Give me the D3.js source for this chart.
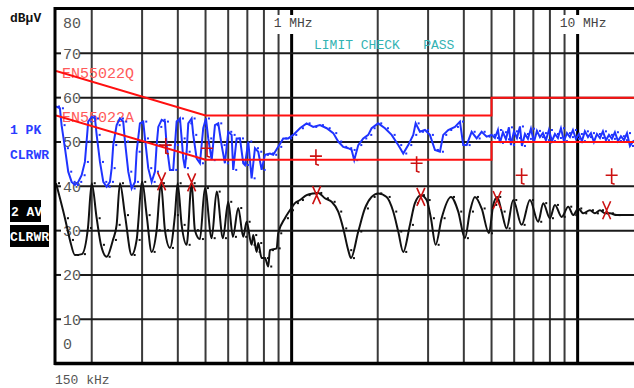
<!DOCTYPE html>
<html>
<head>
<meta charset="utf-8">
<script src="https://cdnjs.cloudflare.com/ajax/libs/d3/7.8.5/d3.min.js"></script>
<style>
  body { margin: 0; background: #fff; }
  svg { display: block; }
  text { font-family: "Liberation Mono", "DejaVu Sans Mono", monospace; }
</style>
</head>
<body>
<div id="chart"></div>
<script>
// grid / tick values
var gridFreqs = [0.2, 0.3, 0.4, 0.5, 0.6, 0.7, 0.8, 0.9, 1, 2, 3, 4, 5, 6, 7, 8, 9, 10, 20];
var majorFreqs = [1, 10];
var freqLabels = [{ f: 1, text: "1 MHz" }, { f: 10, text: "10 MHz" }];
var dbTicks = [0, 10, 20, 30, 40, 50, 60, 70, 80];

// EN55022 class B limits (MHz, dBuV)
var limitFreqs = [0.15, 0.5, 5, 5, 30];
var limitQP = [66, 56, 56, 60, 60];
var limitAV = [56, 46, 46, 50, 50];

// trace 1 : peak (MHz, dBuV)
var pkTrace = [
  [0.150,58.0],[0.1548,57.6],[0.1569,53.8],[0.1612,48.6],[0.1655,43.3],[0.1701,41.0],[0.1747,40.3],[0.1794,41.0],
  [0.1844,42.5],[0.1893,45.5],[0.1919,50.1],[0.1944,54.6],[0.2000,55.7],[0.2053,55.3],[0.2081,51.6],[0.2137,45.5],
  [0.2195,41.0],[0.2255,39.9],[0.2316,41.0],[0.2348,44.1],[0.2378,49.3],[0.2444,53.8],[0.2510,55.3],[0.2577,54.6],
  [0.2614,50.1],[0.2684,43.3],[0.2758,39.5],[0.2833,41.0],[0.2871,47.8],[0.2948,54.2],[0.3028,54.6],[0.3070,50.8],
  [0.3152,44.1],[0.3240,41.0],[0.3327,43.3],[0.3373,49.3],[0.3418,53.4],[0.3512,55.0],[0.3606,54.6],[0.3655,49.3],
  [0.3754,43.7],[0.3855,43.7],[0.3908,49.3],[0.3962,54.6],[0.4069,55.3],[0.4125,50.8],[0.4178,46.3],[0.4235,44.1],
  [0.4294,47.8],[0.4351,54.2],[0.4470,55.3],[0.4529,51.6],[0.4654,46.3],[0.4779,45.2],[0.4908,53.1],[0.5016,55.3],
  [0.5110,50.8],[0.5253,45.9],[0.5394,53.8],[0.5539,54.2],[0.5691,49.3],[0.5843,45.2],[0.6003,52.3],[0.6168,51.6],
  [0.6248,43.7],[0.6422,50.8],[0.6596,50.8],[0.6773,45.2],[0.6867,44.8],[0.7052,50.1],[0.7246,41.8],[0.7443,48.6],
  [0.7643,47.8],[0.7855,43.7],[0.8065,47.1],[0.8397,47.4],[0.8623,47.1],[0.8978,48.9],[0.9346,50.8],[0.9730,50.8],
  [1.013,51.6],[1.069,53.1],[1.128,54.2],[1.190,53.4],[1.256,53.8],[1.326,53.1],[1.398,52.0],[1.455,50.1],
  [1.515,48.9],[1.577,48.6],[1.621,48.2],[1.655,45.9],[1.710,49.3],[1.780,50.8],[1.853,51.6],[1.904,53.1],
  [2.008,54.2],[2.120,53.1],[2.237,51.6],[2.359,49.3],[2.456,47.4],[2.557,49.3],[2.662,51.6],[2.714,54.2],
  [2.809,52.3],[2.925,52.7],[3.044,51.6],[3.170,48.2],[3.300,47.8],[3.389,51.6],[3.528,52.7],[3.724,53.4],
  [3.877,54.6],[3.981,49.3],[4.092,49.3],[4.260,52.3],[4.435,50.8],[4.617,52.3],[4.806,51.2],[5.003,51.6],
  [5.138,50.9],[5.264,52.7],[5.349,49.8],[5.480,52.2],[5.614,50.6],[5.751,53.3],[5.845,49.3],[5.988,52.4],
  [6.134,50.9],[6.284,53.5],[6.386,49.1],[6.542,51.8],[6.702,50.7],[6.866,53.0],[7.034,50.0],[7.206,52.5],
  [7.382,51.1],[7.562,52.0],[7.747,50.4],[7.937,52.7],[8.131,50.2],[8.329,51.8],[8.533,50.9],[8.742,53.1],
  [8.955,50.2],[9.174,52.0],[9.399,51.1],[9.629,52.7],[9.864,50.7],[10.10,51.8],[10.35,50.2],[10.60,52.4],
  [10.87,51.1],[11.13,52.0],[11.40,50.0],[11.68,51.8],[11.97,50.9],[12.26,52.4],[12.56,50.4],[12.87,51.6],
  [13.18,50.7],[13.50,52.2],[13.84,50.2],[14.17,51.3],[14.52,50.4],[14.88,52.0],[15.24,49.1],[15.73,50.4]
];

// trace 2 : average (MHz, dBuV)
var avTrace = [
  [0.150,40.7],[0.1612,32.8],[0.1678,27.9],[0.1747,24.5],[0.1848,24.7],[0.1940,30.6],[0.2000,40.7],[0.2081,32.8],
  [0.2154,26.8],[0.2255,24.1],[0.2372,27.9],[0.2444,31.3],[0.2510,40.7],[0.2614,33.5],[0.2758,24.5],[0.2871,27.9],
  [0.3003,41.0],[0.3112,33.5],[0.3240,25.2],[0.3373,30.1],[0.3491,40.7],[0.3606,30.1],[0.3754,26.1],[0.3908,33.5],
  [0.3994,40.7],[0.4125,31.3],[0.4294,26.8],[0.4470,40.7],[0.4590,30.1],[0.4779,28.1],[0.4975,39.6],[0.5253,28.3],
  [0.5469,38.8],[0.5752,28.3],[0.6003,36.5],[0.6233,28.6],[0.6506,35.1],[0.6773,28.6],[0.6960,32.0],[0.7246,26.8],
  [0.7340,29.0],[0.7545,25.2],[0.7643,27.2],[0.7855,23.8],[0.8065,23.8],[0.8283,21.9],[0.8397,25.6],[0.8864,26.0],
  [0.8978,29.4],[0.9475,32.8],[0.9864,34.6],[1.027,36.2],[1.069,36.9],[1.128,38.0],[1.190,38.4],[1.239,38.5],
  [1.307,37.3],[1.380,36.5],[1.455,34.3],[1.515,30.5],[1.577,25.6],[1.612,23.8],[1.710,29.8],[1.804,35.0],
  [1.904,37.6],[2.008,38.4],[2.149,37.6],[2.266,34.3],[2.359,29.8],[2.456,25.2],[2.592,31.3],[2.698,36.2],
  [2.832,38.0],[2.965,36.9],[3.069,32.8],[3.188,26.8],[3.345,32.8],[3.606,37.6],[3.824,34.3],[4.036,28.3],
  [4.202,34.3],[4.374,37.6],[4.617,35.0],[4.897,29.4],[5.069,35.8],[5.235,37.6],[5.424,34.3],[5.646,30.5],
  [5.954,36.9],[6.371,31.3],[6.811,36.9],[7.281,32.0],[7.580,36.2],[8.001,32.8],[8.329,35.8],[8.793,33.1],
  [9.271,35.4],[9.652,33.5],[10.05,35.0],[10.46,33.9],[11.04,34.6],[11.49,33.9],[11.97,34.6],[12.46,33.9],
  [12.97,33.9],[13.69,33.5],[15.73,33.5]
];

// final measurement markers
var qpMarkFreqs = [0.363, 0.506, 1.216, 2.735, 6.37, 13.15];
var qpMarkLevels = [49.3, 48.6, 46.8, 45.2, 42.5, 42.5];
var avMarkFreqs = [0.351, 0.447, 1.223, 2.83, 5.23, 12.63];
var avMarkLevels = [41.1, 40.9, 38.0, 37.6, 36.9, 34.6];

var width = 634, height = 388;
var plotLeft = 56, plotTop = 9, plotBottom = 363.6;

var svg = d3.select("#chart").append("svg")
  .attr("width", width)
  .attr("height", height);

var x = d3.scaleLog().domain([0.15, 30]).range([plotLeft, plotLeft + Math.log10(200) * 286]);
var y = d3.scaleLinear().domain([0, 80]).range([plotBottom, plotTop]);

svg.append("defs").append("clipPath").attr("id", "plotclip")
  .append("rect").attr("x", plotLeft).attr("y", plotTop)
  .attr("width", width - plotLeft).attr("height", plotBottom - plotTop);

// vertical grid (gap under the MHz labels)
var gapFreqs = [0.9, 1, 9, 10];
var vgrid = svg.append("g");
gridFreqs.forEach(function (f) {
  var major = majorFreqs.indexOf(f) >= 0;
  var segs = gapFreqs.indexOf(f) >= 0 ? [[plotTop, 15], [34, plotBottom]] : [[plotTop, plotBottom]];
  segs.forEach(function (s) {
    vgrid.append("line")
      .attr("x1", x(f)).attr("x2", x(f))
      .attr("y1", s[0]).attr("y2", s[1])
      .attr("stroke", major ? "#000" : "#3a3a3a")
      .attr("stroke-width", major ? 3 : 2);
  });
});

// horizontal grid, broken by the labels
var hgrid = svg.append("g");
dbTicks.forEach(function (v) {
  if (v == 0 || v == 80) return;
  hgrid.append("line").attr("x1", plotLeft).attr("x2", 61).attr("y1", y(v)).attr("y2", y(v))
    .attr("stroke", "#1a1a1a").attr("stroke-width", 2);
  hgrid.append("line").attr("x1", 80).attr("x2", width).attr("y1", y(v)).attr("y2", y(v))
    .attr("stroke", "#1a1a1a").attr("stroke-width", 2);
});

svg.append("g").selectAll("text")
  .data(dbTicks)
  .enter()
  .append("text")
  .attr("x", 63)
  .attr("y", function (d) {
    if (d == 80) return y(d) + 14;
    if (d == 0) return y(d) - 20;
    return y(d);
  })
  .attr("dy", "0.36em")
  .attr("fill", "#555")
  .style("font-size", "15px")
  .text(function (d) { return d; });

svg.append("g").selectAll("text")
  .data(freqLabels)
  .enter()
  .append("text")
  .attr("x", function (d) { return x(d.f) - 18; })
  .attr("y", 27)
  .attr("fill", "#444")
  .style("font-size", "13px")
  .text(function (d) { return d.text; });

svg.append("text").attr("x", 55).attr("y", 384).attr("fill", "#555")
  .style("font-size", "13px").text("150 kHz");

svg.append("text").attr("x", 314).attr("y", 49).attr("fill", "#33b3b3")
  .style("font-size", "13px").attr("xml:space", "preserve").text("LIMIT CHECK   PASS");

// limit names
svg.append("text").attr("x", 62).attr("y", 78).attr("fill", "#ff5a5a")
  .style("font-size", "15px").text("EN55022Q");
svg.append("text").attr("x", 62).attr("y", 122).attr("fill", "#ff5a5a")
  .style("font-size", "15px").text("EN55022A");

// left side trace info
svg.append("text").attr("x", 10).attr("y", 22).attr("fill", "#111")
  .style("font-size", "13px").style("font-weight", "bold").text("dBµV");
svg.append("text").attr("x", 10).attr("y", 134).attr("fill", "#2a3cff")
  .style("font-size", "13px").style("font-weight", "bold").text("1 PK");
svg.append("text").attr("x", 10).attr("y", 159).attr("fill", "#2a3cff")
  .style("font-size", "13px").style("font-weight", "bold").text("CLRWR");
svg.append("rect").attr("x", 10).attr("y", 200).attr("width", 31).attr("height", 22).attr("fill", "#000");
svg.append("text").attr("x", 11).attr("y", 216).attr("fill", "#fff")
  .style("font-size", "13px").style("font-weight", "bold").text("2 AV");
svg.append("rect").attr("x", 10).attr("y", 225).attr("width", 39).attr("height", 22).attr("fill", "#000");
svg.append("text").attr("x", 10).attr("y", 241).attr("fill", "#fff")
  .style("font-size", "13px").style("font-weight", "bold").text("CLRWR");

var plot = svg.append("g").attr("clip-path", "url(#plotclip)");

var traceLine = d3.line()
  .x(function (d) { return x(d[0]); })
  .y(function (d) { return y(d[1]); });

// average trace
plot.append("path")
  .datum(avTrace)
  .attr("fill", "none")
  .attr("stroke", "#111")
  .attr("stroke-width", 2)
  .attr("d", traceLine.curve(d3.curveMonotoneX));
plot.append("g").selectAll("rect")
  .data(avTrace)
  .enter()
  .append("rect")
  .attr("x", function (d) { return x(d[0]) + 2; })
  .attr("y", function (d) { return y(d[1]) - 1; })
  .attr("width", 2).attr("height", 2)
  .attr("fill", "#111");

// peak trace
plot.append("path")
  .datum(pkTrace)
  .attr("fill", "none")
  .attr("stroke", "#1f33ff")
  .attr("stroke-width", 2)
  .attr("d", traceLine.curve(d3.curveLinear));
plot.append("g").selectAll("rect")
  .data(pkTrace)
  .enter()
  .append("rect")
  .attr("x", function (d) { return x(d[0]) + 2; })
  .attr("y", function (d) { return y(d[1]) - 1; })
  .attr("width", 2).attr("height", 2)
  .attr("fill", "#1f33ff");

// limit lines
[limitQP, limitAV].forEach(function (lim) {
  var pts = limitFreqs.map(function (f, i) { return [f, lim[i]]; });
  plot.append("path")
    .datum(pts)
    .attr("fill", "none")
    .attr("stroke", "#ff1010")
    .attr("stroke-width", 2)
    .attr("d", d3.line().x(function (d) { return x(d[0]); }).y(function (d) { return y(d[1]); }));
});

// markers
var mark = svg.append("g").attr("fill", "none").attr("stroke", "#cc1111").attr("stroke-width", 1.6);
qpMarkFreqs.forEach(function (f, i) {
  var cx = x(f), cy = y(qpMarkLevels[i]);
  mark.append("path").attr("d",
    "M" + (cx - 6) + "," + cy + "H" + (cx + 6) +
    "M" + cx + "," + (cy - 7) + "V" + (cy + 8) + "L" + (cx + 3) + "," + (cy + 9));
});
avMarkFreqs.forEach(function (f, i) {
  var cx = x(f), cy = y(avMarkLevels[i]);
  mark.append("path").attr("d",
    "M" + (cx - 4) + "," + (cy - 9) + "L" + (cx + 4) + "," + (cy + 9) +
    "M" + (cx + 4) + "," + (cy - 9) + "L" + (cx - 4) + "," + (cy + 9));
});

// frame
svg.append("line").attr("x1", plotLeft - 1.5).attr("x2", width).attr("y1", 8.5).attr("y2", 8.5)
  .attr("stroke", "#000").attr("stroke-width", 3);
svg.append("line").attr("x1", plotLeft - 1.5).attr("x2", width).attr("y1", plotBottom).attr("y2", plotBottom)
  .attr("stroke", "#000").attr("stroke-width", 3.5);
svg.append("line").attr("x1", plotLeft - 1).attr("x2", plotLeft - 1).attr("y1", 7).attr("y2", plotBottom + 1.5)
  .attr("stroke", "#000").attr("stroke-width", 3);
</script>
</body>
</html>
